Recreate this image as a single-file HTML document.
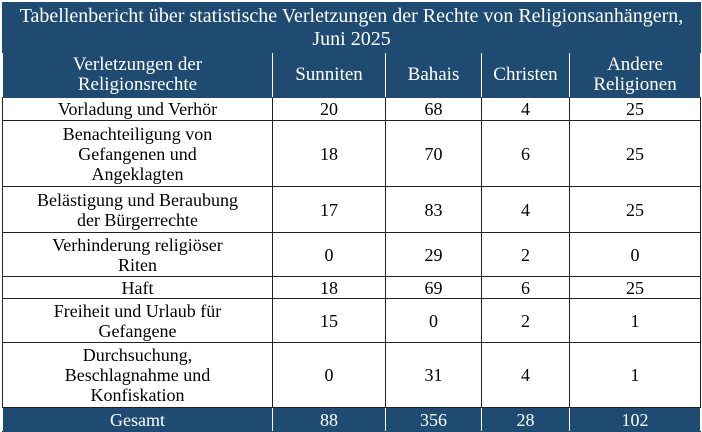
<!DOCTYPE html>
<html><head><meta charset="utf-8"><style>
body{margin:0;background:#fff;width:702px;height:432px;overflow:hidden}
table{position:absolute;left:2px;top:2px;border-collapse:collapse;width:698px;table-layout:fixed;font-family:"Liberation Serif",serif;font-size:18px;color:#000}
td{border:1px solid #222;text-align:center;vertical-align:middle;padding:0 2px;line-height:20px;white-space:nowrap}
.h td{background:#1f4b73;color:#fff;border-color:#fff #fff #1f4b73 #fff;font-size:19px}
.t td{background:#1f4b73;color:#fff;font-size:20px;border-color:#1f4b73;line-height:23px}
.g td{background:#1f4b73;color:#fff;border-color:#1f4b73 #fff #1f4b73 #fff}
</style></head><body>
<table>
<colgroup><col style="width:270px"><col style="width:113px"><col style="width:96px"><col style="width:88px"><col style="width:131px"></colgroup>
<tr class="t" style="height:50px"><td colspan="5">Tabellenbericht über statistische Verletzungen der Rechte von Religionsanhängern,<br>Juni 2025</td></tr>
<tr class="h" style="height:45px"><td>Verletzungen der<br>Religionsrechte</td><td>Sunniten</td><td>Bahais</td><td>Christen</td><td>Andere<br>Religionen</td></tr>
<tr style="height:23px"><td>Vorladung und Verhör</td><td>20</td><td>68</td><td>4</td><td>25</td></tr>
<tr style="height:66px"><td>Benachteiligung von<br>Gefangenen und<br>Angeklagten</td><td>18</td><td>70</td><td>6</td><td>25</td></tr>
<tr style="height:46px"><td>Belästigung und Beraubung<br>der Bürgerrechte</td><td>17</td><td>83</td><td>4</td><td>25</td></tr>
<tr style="height:44px"><td>Verhinderung religiöser<br>Riten</td><td>0</td><td>29</td><td>2</td><td>0</td></tr>
<tr style="height:22px"><td>Haft</td><td>18</td><td>69</td><td>6</td><td>25</td></tr>
<tr style="height:44px"><td>Freiheit und Urlaub für<br>Gefangene</td><td>15</td><td>0</td><td>2</td><td>1</td></tr>
<tr style="height:65px"><td>Durchsuchung,<br>Beschlagnahme und<br>Konfiskation</td><td>0</td><td>31</td><td>4</td><td>1</td></tr>
<tr class="g" style="height:24px"><td>Gesamt</td><td>88</td><td>356</td><td>28</td><td>102</td></tr>
</table>
</body></html>
